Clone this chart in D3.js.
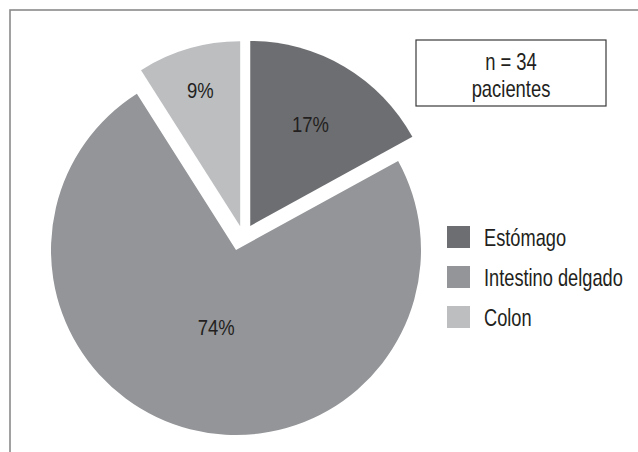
<!DOCTYPE html>
<html>
<head>
<meta charset="utf-8">
<script src="https://cdn.jsdelivr.net/npm/d3@7"></script>
<style>
  html, body { margin: 0; padding: 0; background: #fff; }
  svg { display: block; }
  text { font-family: "Liberation Sans", Arial, "Helvetica Neue", sans-serif; fill: #231f20; }
</style>
</head>
<body>
<svg id="chart" width="638" height="452"></svg>
<script>
// Localización de los tumores (n = 34 pacientes)
const categories = ["Estómago", "Intestino delgado", "Colon"];
const percentages = [17, 74, 9];
const noteLines = ["n = 34", "pacientes"];

const colors = ["#6d6e71", "#939598", "#bcbec0"];

const W = 638, H = 452;
const cx = 236, cy = 250, R = 185;

// Separation of the highlighted slices from the centre (distance, direction in degrees; null = bisector)
const explode = [
  { dist: 28, dir: null },
  { dist: 0, dir: null },
  { dist: 24, dir: 10 }
];
// Radial position of each percentage label, as a fraction of the radius
const labelPos = [0.64, 0.43, 0.77];

const svg = d3.select("#chart");

// Condensed lettering: horizontal squeeze applied to the text
const place = (x, y, k) => `translate(${x},${y}) scale(${k},1)`;

// Outer frame (runs past the right and bottom edges)
svg.append("rect")
  .attr("x", 10).attr("y", 10)
  .attr("width", W + 20).attr("height", H + 20)
  .attr("fill", "none")
  .attr("stroke", "#8a8a8a")
  .attr("stroke-width", 1.6);

const pie = d3.pie().sort(null).value(d => d)
  .startAngle(0).endAngle(2 * Math.PI);
const arcs = pie(percentages);
const arc = d3.arc().innerRadius(0).outerRadius(R);

const g = svg.append("g").attr("transform", `translate(${cx},${cy})`);

const slices = g.selectAll("g.slice")
  .data(arcs)
  .join("g")
  .attr("class", "slice")
  .attr("transform", (d, i) => {
    const e = explode[i];
    const a = e.dir === null ? (d.startAngle + d.endAngle) / 2 : e.dir * Math.PI / 180;
    const [dx, dy] = d3.pointRadial(a, e.dist);
    return `translate(${dx},${dy})`;
  });

slices.append("path")
  .attr("d", arc)
  .attr("fill", (d, i) => colors[i]);

slices.append("text")
  .attr("transform", (d, i) => {
    const a = (d.startAngle + d.endAngle) / 2;
    const [x, y] = d3.pointRadial(a, R * labelPos[i]);
    return place(x, y, 0.84);
  })
  .attr("text-anchor", "middle")
  .attr("dy", "0.36em")
  .attr("font-size", 22)
  .text(d => d.data + "%");

// Sample-size note
const note = svg.append("g").attr("transform", "translate(416,40)");
note.append("rect")
  .attr("width", 190).attr("height", 66)
  .attr("fill", "#fff")
  .attr("stroke", "#3a3a3a")
  .attr("stroke-width", 1.2);
note.selectAll("text")
  .data(noteLines)
  .join("text")
  .attr("transform", (d, i) => place(95, 30 + i * 27, 0.8))
  .attr("text-anchor", "middle")
  .attr("font-size", 23)
  .text(d => d);

// Legend
const legend = svg.append("g").attr("transform", "translate(447,226)");
const item = legend.selectAll("g")
  .data(categories)
  .join("g")
  .attr("transform", (d, i) => `translate(0,${i * 40})`);
item.append("rect")
  .attr("width", 23).attr("height", 22)
  .attr("fill", (d, i) => colors[i]);
item.append("text")
  .attr("transform", place(37, 20, 0.76))
  .attr("font-size", 24)
  .text(d => d);
</script>
</body>
</html>
